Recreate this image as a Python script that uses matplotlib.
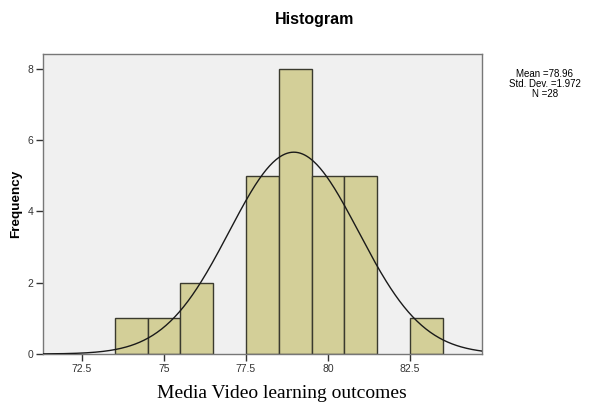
import numpy as np
import matplotlib
matplotlib.use('Agg')
import matplotlib.pyplot as plt

# bin centres (width 1) and counts
bin_centers = [74, 75, 76, 77, 78, 79, 80, 81, 82, 83]
counts = [1, 1, 2, 0, 5, 8, 5, 5, 0, 1]
mean, std_dev, n = 78.96, 1.972, 28
x_ticks = [72.5, 75, 77.5, 80, 82.5]
y_ticks = [0, 2, 4, 6, 8]

plt.rcParams['font.family'] = ['Liberation Sans', 'DejaVu Sans']

fig = plt.figure(figsize=(6.02, 4.04), dpi=100)
ax = fig.add_axes([0.0714, 0.1238, 0.7293, 0.7425])
ax.set_facecolor('#f0f0f0')

for c, h in zip(bin_centers, counts):
    if h > 0:
        ax.bar(c, h, width=1.0, color='#d3cf98', edgecolor='#3a3a2e', linewidth=1.0, zorder=2)

# fitted normal curve scaled to counts
xs = np.linspace(71.3, 84.7, 400)
ys = n * 1.0 / (std_dev * np.sqrt(2 * np.pi)) * np.exp(-0.5 * ((xs - mean) / std_dev) ** 2)
ax.plot(xs, ys, color='#1a1a1a', linewidth=1.0, zorder=3)

ax.set_xlim(71.31, 84.7)
ax.set_ylim(0, 8.42)
ax.set_xticks(x_ticks)
ax.set_xticklabels(['72.5', '75', '77.5', '80', '82.5'], fontsize=7.5, color='#333333')
ax.set_yticks(y_ticks)
ax.set_yticklabels([str(t) for t in y_ticks], fontsize=7.5, color='#333333')
ax.tick_params(direction='out', length=5, width=1, color='#333333', pad=2)
for s in ax.spines.values():
    s.set_color('#777777')
    s.set_linewidth(1.0)

ax.set_ylabel('Frequency', fontsize=9.7, fontweight='bold', labelpad=4)
fig.text(0.523, 0.952, 'Histogram', ha='center', va='center', fontsize=11.5, fontweight='bold')
fig.text(0.468, 0.005, 'Media Video learning outcomes', ha='center', va='bottom',
         fontsize=14, family=['Liberation Serif', 'DejaVu Serif'])
fig.text(0.905, 0.792, 'Mean =%.2f\nStd. Dev. =%.3f\nN =%d' % (mean, std_dev, n),
         ha='center', va='center', fontsize=7, linespacing=0.95)

fig.savefig('out.png', dpi=100)
